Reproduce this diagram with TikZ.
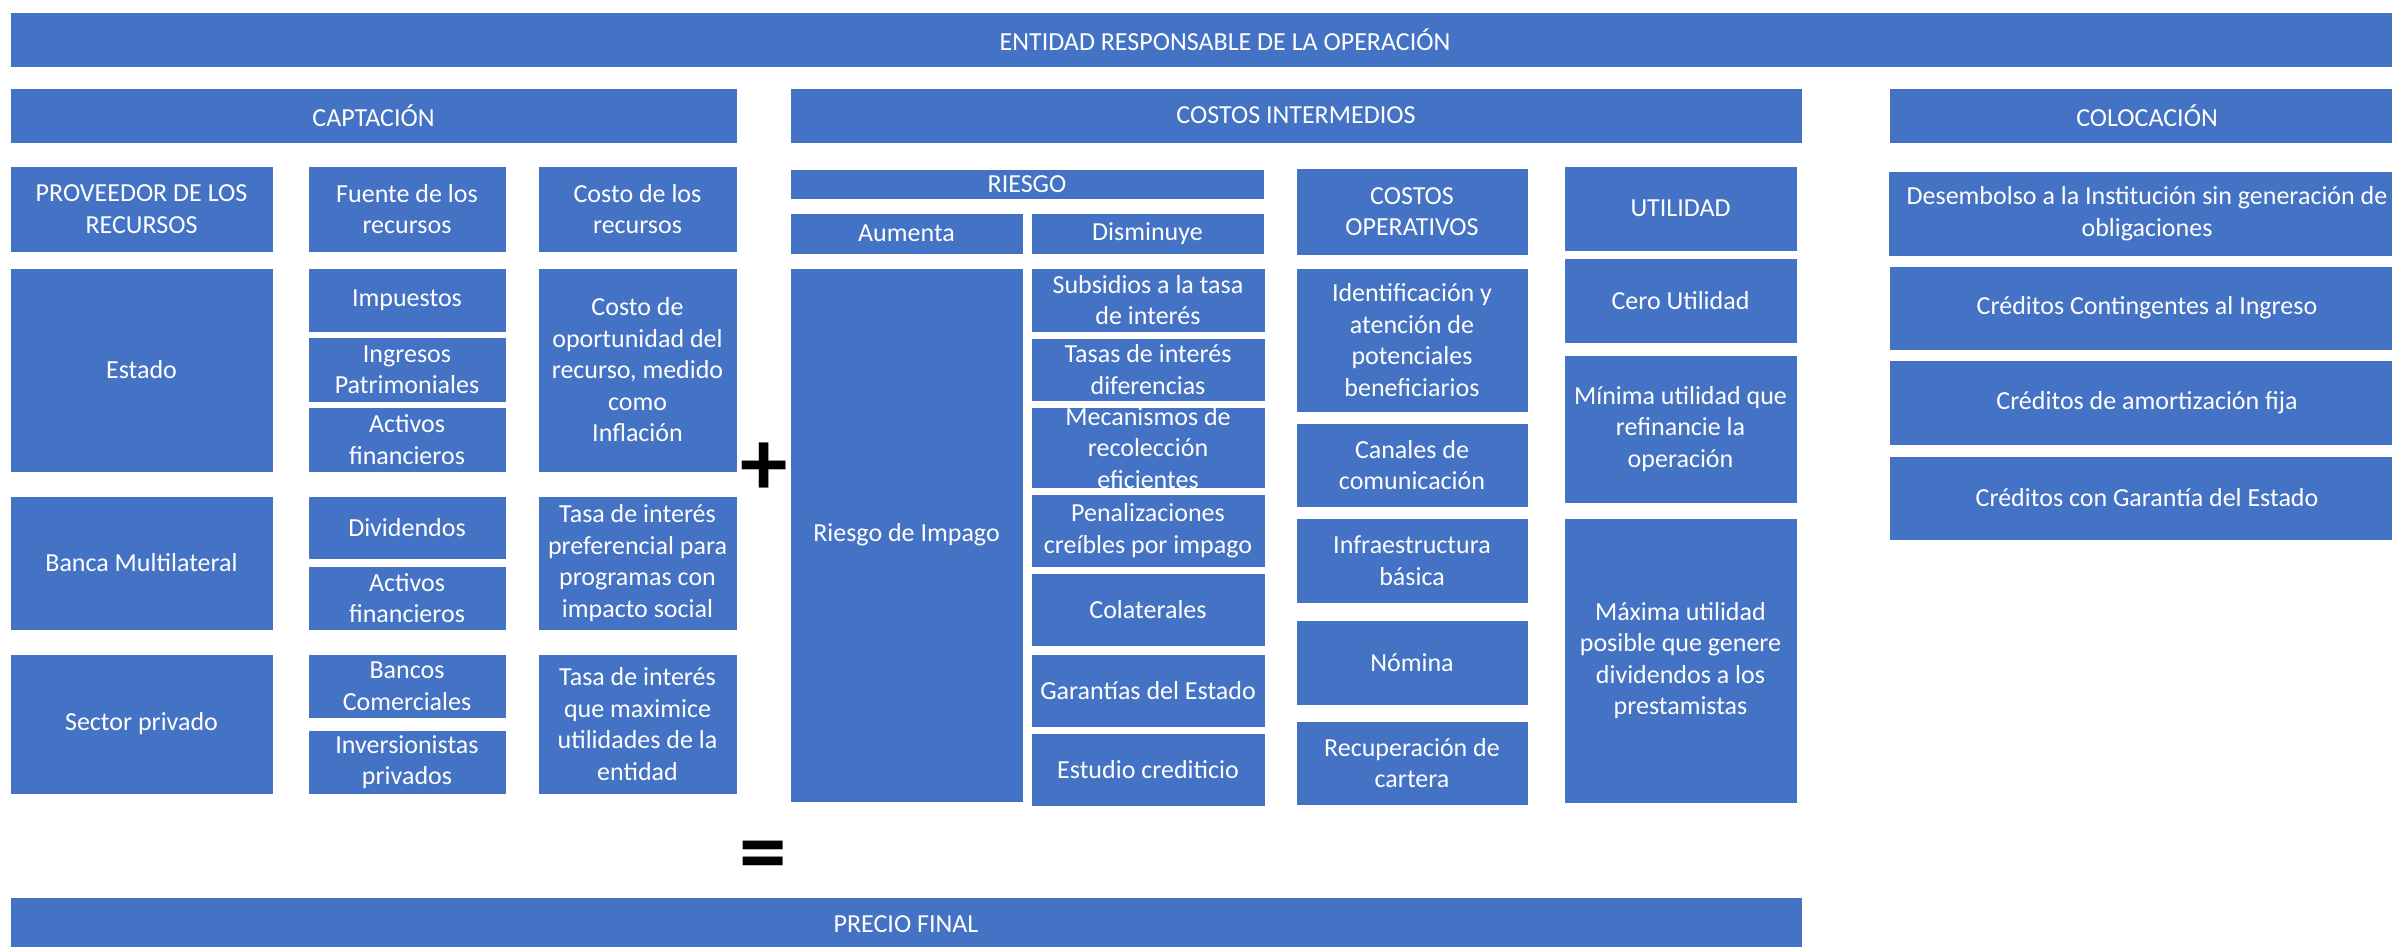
\documentclass[tikz,border=0pt]{standalone}
\usepackage{fontspec}
\setmainfont{Carlito}
\usepackage{tikz}
\definecolor{officeblue}{HTML}{4472C4}

\begin{document}
\begin{tikzpicture}[x=1pt, y=-1pt, every node/.style={font=\fontsize{26}{31.5}\selectfont}]
	\tikzstyle{block} = [rectangle, draw=white, line width=0.8pt, fill=officeblue, text=white, align=center, inner sep=0pt, outer sep=0pt]
	\tikzstyle{sign} = [text=black, inner sep=0pt, font=\fontsize{95}{95}\selectfont\bfseries]
	\clip (0,0) rectangle (2392,946);
	% encabezados
	\node [block, minimum width=2430, minimum height=55] (entidad) at (1225,39.5) {ENTIDAD RESPONSABLE DE LA OPERACIÓN};
	\node [block, minimum width=727, minimum height=55] (captacion) at (373.5,115.5) {CAPTACIÓN};
	\node [block, minimum width=1012, minimum height=55] (costosint) at (1296,115.5) {COSTOS INTERMEDIOS};
	\node [block, minimum width=516, minimum height=55] (colocacion) at (2147,115.5) {COLOCACIÓN};
	% captacion
	\node [block, minimum width=263, minimum height=86] (proveedor) at (141.5,209) {PROVEEDOR DE LOS\\RECURSOS};
	\node [block, minimum width=198, minimum height=86] (fuente) at (407,209) {Fuente de los\\recursos};
	\node [block, minimum width=199, minimum height=86] (costo) at (637.5,209) {Costo de los\\recursos};
	\node [block, minimum width=263, minimum height=204] (estado) at (141.5,370) {Estado};
	\node [block, minimum width=198, minimum height=64] (impuestos) at (407,300) {Impuestos};
	\node [block, minimum width=198, minimum height=65] (ingresos) at (407,369.5) {Ingresos\\Patrimoniales};
	\node [block, minimum width=198, minimum height=65] (activos) at (407,439.5) {Activos\\financieros};
	\node [block, minimum width=199, minimum height=204] (oportunidad) at (637.5,370) {Costo de\\oportunidad del\\recurso, medido\\como\\Inflación};
	\node [block, minimum width=263, minimum height=134] (banca) at (141.5,563) {Banca Multilateral};
	\node [block, minimum width=198, minimum height=63] (dividendos) at (407,527.5) {Dividendos};
	\node [block, minimum width=198, minimum height=64] (activosb) at (407,598) {Activos\\financieros};
	\node [block, minimum width=199, minimum height=134] (preferencial) at (637.5,563) {Tasa de interés\\preferencial para\\programas con\\impacto social};
	\node [block, minimum width=263, minimum height=140] (sector) at (141.5,724) {Sector privado};
	\node [block, minimum width=198, minimum height=64] (bancos) at (407,686) {Bancos\\Comerciales};
	\node [block, minimum width=198, minimum height=64] (inversionistas) at (407,762) {Inversionistas\\privados};
	\node [block, minimum width=199, minimum height=140] (maximice) at (637.5,724) {Tasa de interés\\que maximice\\utilidades de la\\entidad};
	% riesgo
	\node [block, minimum width=474, minimum height=30] (riesgo) at (1027,184) {RIESGO};
	\node [block, minimum width=233, minimum height=41] (aumenta) at (906.5,233.5) {Aumenta};
	\node [block, minimum width=233, minimum height=41] (disminuye) at (1147.5,233.5) {Disminuye};
	\node [block, minimum width=233, minimum height=534] (impago) at (906.5,535) {Riesgo de Impago};
	\node [block, minimum width=234, minimum height=64] (subsidios) at (1148,300) {Subsidios a la tasa\\de interés};
	\node [block, minimum width=234, minimum height=63] (tasas) at (1148,369.5) {Tasas de interés\\diferencias};
	\node [block, minimum width=234, minimum height=80] (mecanismos) at (1148,448) {Mecanismos de\\recolección\\eficientes};
	\node [block, minimum width=234, minimum height=73] (penalizaciones) at (1148,530.5) {Penalizaciones\\creíbles por impago};
	\node [block, minimum width=234, minimum height=73] (colaterales) at (1148,609.5) {Colaterales};
	\node [block, minimum width=234, minimum height=73] (garantias) at (1148,690.5) {Garantías del Estado};
	\node [block, minimum width=234, minimum height=73] (estudio) at (1148,769.5) {Estudio crediticio};
	% costos operativos
	\node [block, minimum width=232, minimum height=87] (costosop) at (1412,211.5) {COSTOS\\OPERATIVOS};
	\node [block, minimum width=232, minimum height=144] (identificacion) at (1412,340) {Identificación y\\atención de\\potenciales\\beneficiarios};
	\node [block, minimum width=232, minimum height=84] (canales) at (1412,465) {Canales de\\comunicación};
	\node [block, minimum width=232, minimum height=85] (infraestructura) at (1412,560.5) {Infraestructura\\básica};
	\node [block, minimum width=232, minimum height=85] (nomina) at (1412,662.5) {Nómina};
	\node [block, minimum width=232, minimum height=84] (recuperacion) at (1412,763) {Recuperación de\\cartera};
	% utilidad
	\node [block, minimum width=233, minimum height=85] (utilidad) at (1680.5,208.5) {UTILIDAD};
	\node [block, minimum width=233, minimum height=85] (cero) at (1680.5,300.5) {Cero Utilidad};
	\node [block, minimum width=233, minimum height=148] (minima) at (1680.5,429) {Mínima utilidad que\\refinancie la\\operación};
	\node [block, minimum width=233, minimum height=285] (maxima) at (1680.5,660.5) {Máxima utilidad\\posible que genere\\dividendos a los\\prestamistas};
	% colocacion
	\node [block, minimum width=517, minimum height=85] (desembolso) at (2147,213.5) {Desembolso a la Institución sin generación de\\obligaciones};
	\node [block, minimum width=516, minimum height=84] (contingentes) at (2147,308) {Créditos Contingentes al Ingreso};
	\node [block, minimum width=516, minimum height=85] (amortizacion) at (2147,402.5) {Créditos de amortización fija};
	\node [block, minimum width=516, minimum height=84] (garantia) at (2147,498) {Créditos con Garantía del Estado};
	% precio final
	\node [sign] (plus) at (764,469) {+};
	\node [sign] (igual) at (763,862) {=};
	\node [block, minimum width=1792, minimum height=55] (precio) at (906,924.5) {PRECIO FINAL};
\end{tikzpicture}
\end{document}
